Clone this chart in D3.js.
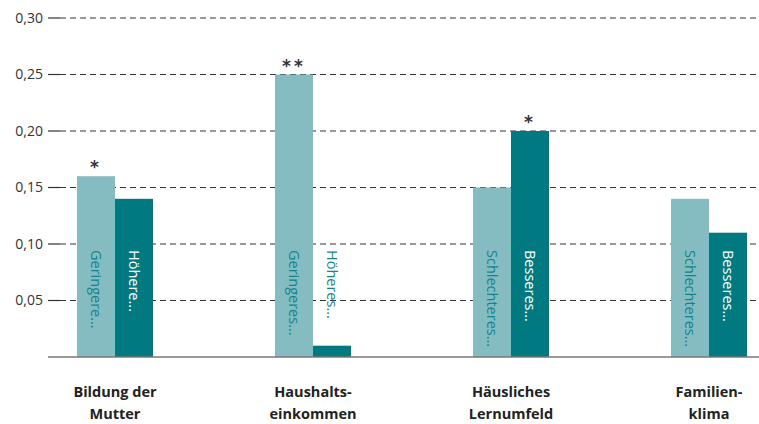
<!DOCTYPE html>
<html>
<head>
<meta charset="utf-8">
<script src="https://d3js.org/d3.v7.min.js"></script>
<style>
  body { margin: 0; background: #fff; }
  svg { display: block; }
  .tick-label { font-family: "Open Sans", sans-serif; font-size: 14px; fill: #333; }
  .cat-label { font-family: "Open Sans", sans-serif; font-weight: bold; font-size: 14.5px; fill: #222; }
  .bar-label { font-family: "Open Sans", sans-serif; font-size: 14.5px; font-weight: 400; }
</style>
</head>
<body>
<svg id="chart" width="759" height="424"></svg>
<script>
// ── Daten ───────────────────────────────────────────
const categories = ["Bildung der Mutter", "Haushaltseinkommen", "Häusliches Lernumfeld", "Familienklima"];
const catLines = [["Bildung der", "Mutter"], ["Haushalts-", "einkommen"], ["Häusliches", "Lernumfeld"], ["Familien-", "klima"]];
const lowValues = [0.16, 0.25, 0.15, 0.14];
const highValues = [0.14, 0.01, 0.20, 0.11];
const lowLabels = ["Geringere...", "Geringeres...", "Schlechteres...", "Schlechteres..."];
const highLabels = ["Höhere...", "Höheres...", "Besseres...", "Besseres..."];
const lowStars = ["*", "**", "", ""];
const highStars = ["", "", "*", ""];
const yTicks = [0.05, 0.10, 0.15, 0.20, 0.25, 0.30];

const LIGHT = "#84bcc2";
const DARK = "#007a80";

const svg = d3.select("#chart");

const y = d3.scaleLinear().domain([0, 0.30]).range([357, 18]);
const x = d3.scaleBand().domain(categories).range([16, 808])
    .paddingInner(0.616).paddingOuter(0.308);
const sub = d3.scaleBand().domain(["low", "high"]).range([0, x.bandwidth()]);

// ── Gitterlinien ────────────────────────────────────
const grid = svg.append("g");
yTicks.forEach(t => {
    grid.append("line")
        .attr("x1", 48).attr("x2", 60)
        .attr("y1", y(t)).attr("y2", y(t))
        .attr("stroke", "#333").attr("stroke-width", 1.2);
    grid.append("line")
        .attr("x1", 60).attr("x2", 759)
        .attr("y1", y(t)).attr("y2", y(t))
        .attr("stroke", "#333").attr("stroke-width", 1.2)
        .attr("stroke-dasharray", "6,4");
    grid.append("text")
        .attr("class", "tick-label")
        .attr("x", 43).attr("y", y(t))
        .attr("dy", "0.35em")
        .attr("text-anchor", "end")
        .text(d3.format(".2f")(t).replace(".", ","));
});

// ── Balken ──────────────────────────────────────────
const rows = categories.map((c, i) => ({
    cat: c,
    bars: [
        { key: "low", v: lowValues[i], label: lowLabels[i], star: lowStars[i] },
        { key: "high", v: highValues[i], label: highLabels[i], star: highStars[i] }
    ]
}));

const groups = svg.selectAll(".grp").data(rows).enter()
    .append("g").attr("class", "grp")
    .attr("transform", d => `translate(${x(d.cat)},0)`);

const bars = groups.selectAll(".bar").data(d => d.bars).enter();

bars.append("rect")
    .attr("x", d => sub(d.key))
    .attr("y", d => y(d.v))
    .attr("width", sub.bandwidth())
    .attr("height", d => y(0) - y(d.v))
    .attr("fill", d => d.key === "low" ? LIGHT : DARK);

// rotierte Beschriftung in den Balken
bars.append("text")
    .attr("class", "bar-label")
    .attr("transform", d => `translate(${sub(d.key) + sub.bandwidth() / 2},250) rotate(90)`)
    .attr("dy", "0.35em")
    .attr("fill", d => (d.key === "high" && y(d.v) < 250) ? "#fff" : "#12858c")
    .text(d => d.label);

// Signifikanz-Sterne
bars.append("text")
    .attr("x", d => sub(d.key) + sub.bandwidth() / 2)
    .attr("y", d => y(d.v) - 3)
    .attr("text-anchor", "middle")
    .attr("font-family", "DejaVu Sans, sans-serif")
    .attr("font-size", "17px")
    .attr("font-weight", "bold")
    .attr("fill", "#333")
    .attr("letter-spacing", "3px")
    .text(d => d.star);

// Grundlinie
svg.append("line")
    .attr("x1", 48).attr("x2", 759)
    .attr("y1", y(0)).attr("y2", y(0))
    .attr("stroke", "#777").attr("stroke-width", 1.5);

// ── Kategorien ──────────────────────────────────────
groups.each(function(d, i) {
    const t = d3.select(this).append("text")
        .attr("class", "cat-label")
        .attr("text-anchor", "middle");
    catLines[i].forEach((line, k) => {
        t.append("tspan")
            .attr("x", x.bandwidth() / 2)
            .attr("y", 397 + k * 22)
            .text(line);
    });
});
</script>
</body>
</html>
